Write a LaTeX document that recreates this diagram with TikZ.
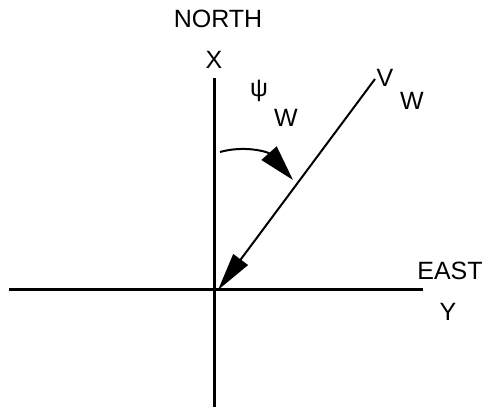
\documentclass[tikz,border=0pt]{standalone}
\usepackage{fontspec}
\setmainfont{Liberation Sans}
\usetikzlibrary{arrows.meta}

\begin{document}
\begin{tikzpicture}[
    x=0.5pt, y=-0.5pt,
    axis/.style={
        line width=1.5pt
    },
    vec/.style={
        -{Triangle[length=19pt, width=9pt]},
        line width=1pt
    },
    angle/.style={
        -{Triangle[length=18pt, width=10pt]},
        line width=1pt
    },
    lbl/.style={
        inner sep=0pt,
        font=\fontsize{12.5}{15}\selectfont
    }
]

\useasboundingbox (0,0) rectangle (482,407);

% axes
\coordinate (origin) at (214,289);
\coordinate (top) at (214,78);
\coordinate (bottom) at (214,407);
\coordinate (left) at (9,289);
\coordinate (right) at (423,289);

\draw[axis] (top) -- (bottom);
\draw[axis] (left) -- (right);

\node[lbl] (north) at (218,19) {NORTH};
\node[lbl] (xlbl) at (214,60) {X};
\node[lbl] (east) at (450,271) {EAST};
\node[lbl] (ylbl) at (448,312) {Y};

% wind vector
\coordinate (vtip) at (375,79);
\coordinate (vhead) at (218,290);
\draw[vec] (vtip) -- (vhead);
\node[lbl] (vlbl) at (385,78) {V};
\node[lbl] (vsub) at (412,101) {W};

% heading angle
\coordinate (arcstart) at (220,152);
\coordinate (arcend) at (293,180);
\draw[angle] (arcstart) .. controls (245,145) and (268,152) .. (arcend);
\node[lbl] (psi) at (259,91) {ψ};
\node[lbl] (psisub) at (286,118) {W};

\end{tikzpicture}
\end{document}
